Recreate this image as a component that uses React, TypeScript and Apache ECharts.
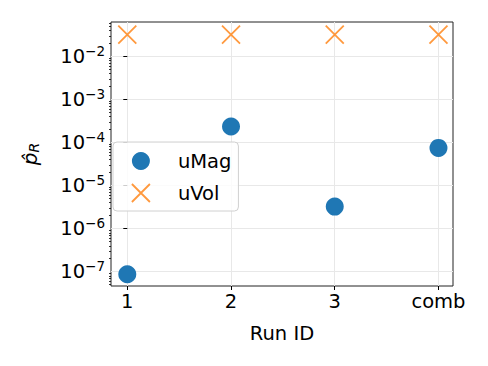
import React, { useEffect, useRef } from 'react';
import * as echarts from 'echarts';

const categories = ['1', '2', '3', 'comb'];
const runPositions = [0, 1, 2, 3];
const uMag = [8.7e-8, 2.35e-4, 3.25e-6, 7.5e-5];
const uVol = [3.2e-2, 3.2e-2, 3.2e-2, 3.2e-2];
const yMajorTicks = [1e-7, 1e-6, 1e-5, 1e-4, 1e-3, 1e-2];
const yMin = 4.65e-8;
const yMax = 6.3e-2;
const xMin = -0.157;
const xMax = 3.14;

const yMinorTicks: number[] = [];
for (let e = -8; e <= -2; e++) {
  for (let m = 2; m <= 9; m++) {
    const v = m * Math.pow(10, e);
    if (v >= yMin && v <= yMax) yMinorTicks.push(v);
  }
}

const FONT = 'DejaVu Sans';
const FS = 19.5;
const CROSS = 'path://M0,0L10,10M10,0L0,10';

export default function App() {
  const ref = useRef<HTMLDivElement>(null);
  useEffect(() => {
    if (!ref.current) return;
    const chart = echarts.init(ref.current, null, { renderer: 'svg' });
    chart.setOption({
      animation: false,
      textStyle: { fontFamily: FONT },
      grid: {
        left: 111, right: 35, top: 22, bottom: 80,
        show: true, borderColor: '#222', borderWidth: 1, containLabel: false,
      },
      legend: {
        orient: 'vertical',
        left: 113, top: 142,
        padding: [9, 7, 8, 18],
        itemGap: 12,
        itemWidth: 18, itemHeight: 18,
        backgroundColor: 'rgba(255,255,255,0.8)',
        borderColor: '#d0d0d0', borderWidth: 1, borderRadius: 4,
        textStyle: { fontFamily: FONT, fontSize: FS, color: '#000', padding: [0, 0, 0, 23] },
        data: [
          { name: 'uMag', icon: 'circle', itemStyle: { color: '#1f77b4' } },
          { name: 'uVol', icon: CROSS, itemStyle: { color: 'rgba(0,0,0,0)', borderColor: '#ff7f0e', borderWidth: 1.8 } },
        ],
      },
      xAxis: {
        type: 'value', min: xMin, max: xMax,
        name: 'Run ID', nameLocation: 'middle', nameGap: 37,
        nameTextStyle: { fontFamily: FONT, fontSize: FS, color: '#000' },
        axisLine: { show: false },
        axisTick: { show: true, inside: false, length: 4, lineStyle: { color: '#000', width: 1 }, customValues: runPositions },
        axisLabel: {
          customValues: runPositions, margin: 5,
          fontFamily: FONT, fontSize: FS, color: '#000',
          formatter: (v: number) => categories[Math.round(v)] ?? '',
        },
        splitLine: { show: true, lineStyle: { color: '#e8e8e8', width: 1 } },
      },
      yAxis: [
        {
          type: 'log', logBase: 10, min: yMin, max: yMax,
          name: '{p|p̂}{s|R}', nameLocation: 'middle', nameGap: 70, nameRotate: 90,
          nameTextStyle: {
            fontFamily: FONT, color: '#000',
            rich: {
              p: { fontFamily: FONT, fontSize: 20, fontStyle: 'italic', color: '#000' },
              s: { fontFamily: FONT, fontSize: 14, fontStyle: 'italic', color: '#000', padding: [9, 0, 0, 0] },
            },
          },
          axisLine: { show: false },
          axisTick: { show: true, length: 4, lineStyle: { color: '#000', width: 1 }, customValues: yMajorTicks },
          axisLabel: {
            customValues: yMajorTicks, margin: 6,
            formatter: (v: number) => `{b|10}{s|−${-Math.round(Math.log10(v))}}`,
            rich: {
              b: { fontFamily: FONT, fontSize: FS, color: '#000' },
              s: { fontFamily: FONT, fontSize: 13.5, color: '#000', padding: [0, 0, 11, 0] },
            },
          },
          splitLine: { show: true, lineStyle: { color: '#e8e8e8', width: 1 } },
          minorTick: { show: false },
        },
        {
          type: 'log', logBase: 10, min: yMin, max: yMax, position: 'left',
          axisLine: { show: false },
          axisTick: { show: true, length: 2, lineStyle: { color: '#000', width: 0.8 }, customValues: yMinorTicks },
          axisLabel: { show: false },
          splitLine: { show: false },
        },
      ],
      series: [
        {
          name: 'uMag', type: 'scatter', yAxisIndex: 0,
          symbol: 'circle', symbolSize: 18,
          itemStyle: { color: '#1f77b4', opacity: 1 },
          data: runPositions.map((x, i) => [x, uMag[i]]),
          z: 3,
        },
        {
          name: 'uVol', type: 'scatter', yAxisIndex: 0,
          symbol: CROSS, symbolSize: 18,
          itemStyle: { color: 'rgba(0,0,0,0)', borderColor: '#ff7f0e', borderWidth: 1.8 },
          data: runPositions.map((x, i) => [x, uVol[i]]),
          z: 3,
        },
      ],
    });
    return () => chart.dispose();
  }, []);
  return <div ref={ref} style={{ width: 488, height: 366, position: 'absolute', left: 0, top: 0 }} />;
}
